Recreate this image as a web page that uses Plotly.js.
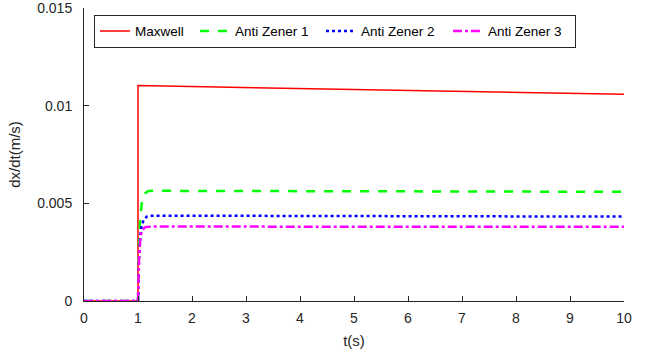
<!DOCTYPE html>
<html><head><meta charset="utf-8">
<script src="https://cdn.plot.ly/plotly-3.0.1.min.js"></script>
<style>html,body{margin:0;padding:0;background:#fff}#chart{width:652px;height:356px}</style>
</head><body><div id="chart"></div>
<script>
const maxwellT = [0, 1, 1, 5.5, 10];
const maxwellV = [0, 0, 0.01103, 0.0108, 0.01058];

const az1T = [0, 1, 1.02, 1.04, 1.07, 1.1, 1.13, 1.17, 1.2, 1.3, 10];
const az1V = [0, 0, 0.0030, 0.0042, 0.0050, 0.0053, 0.0055, 0.0056, 0.00563, 0.00564, 0.00559];

const az2T = [0, 1, 1.02, 1.04, 1.07, 1.1, 1.13, 1.16, 1.22, 1.3, 10];
const az2V = [0, 0, 0.0022, 0.0033, 0.0039, 0.0041, 0.0042, 0.00432, 0.00436, 0.00437, 0.00432];

const az3T = [0, 1, 1.02, 1.04, 1.07, 1.1, 1.13, 1.2, 1.3, 10];
const az3V = [0, 0, 0.0022, 0.0031, 0.0036, 0.0037, 0.00378, 0.0038, 0.00381, 0.00380];

const xTicks = [0,1,2,3,4,5,6,7,8,9,10];
const yTickVals = [0, 0.005, 0.01, 0.015];
const yTickText = ['0', '0.005', '0.01', '0.015'];

const traces = [
  {x: maxwellT, y: maxwellV, name: 'Maxwell', mode: 'lines', legendwidth: 55, line: {color: '#ff0000', width: 1.5, dash: 'solid'}},
  {x: az1T, y: az1V, name: 'Anti Zener 1', mode: 'lines', legendwidth: 81, line: {color: '#00ff00', width: 2.5, dash: 'dash'}},
  {x: az2T, y: az2V, name: 'Anti Zener 2', mode: 'lines', legendwidth: 82, line: {color: '#0000ff', width: 2.5, dash: 'dot'}},
  {x: az3T, y: az3V, name: 'Anti Zener 3', mode: 'lines', legendwidth: 82, line: {color: '#ff00ff', width: 2.5, dash: 'dashdot'}}
];

const axisColor = '#262626';
const layout = {
  width: 652, height: 356,
  margin: {l: 84, r: 28, t: 8, b: 55},
  paper_bgcolor: '#fff', plot_bgcolor: '#fff',
  font: {family: 'Liberation Sans, Arial, sans-serif', size: 13, color: axisColor},
  showlegend: true,
  legend: {
    orientation: 'h', x: 0.0185, y: 0.977, xanchor: 'left', yanchor: 'top',
    bgcolor: '#fff', bordercolor: '#262626', borderwidth: 1,
    font: {size: 13.5, color: '#000'}, tracegroupgap: 0, itemwidth: 30
  },
  xaxis: {
    range: [0, 10], tickvals: xTicks, ticks: 'inside', ticklen: 5, tickcolor: axisColor,
    showline: true, linecolor: axisColor, linewidth: 1, showgrid: false, zeroline: false,
    tickfont: {size: 14}, ticklabelstandoff: 4, ticklabeloverflow: 'allow',
    title: {text: 't(s)', font: {size: 15}, standoff: 10}
  },
  yaxis: {
    range: [0, 0.015], tickvals: yTickVals, ticktext: yTickText, ticks: 'inside', ticklen: 5, tickcolor: axisColor,
    showline: true, linecolor: axisColor, linewidth: 1, showgrid: false, zeroline: false,
    tickfont: {size: 14}, ticklabelstandoff: 8, ticklabeloverflow: 'allow',
    title: {text: 'dx/dt(m/s)', font: {size: 15}, standoff: 12}
  }
};
Plotly.newPlot('chart', traces, layout, {displayModeBar: false, staticPlot: true});
</script></body></html>
